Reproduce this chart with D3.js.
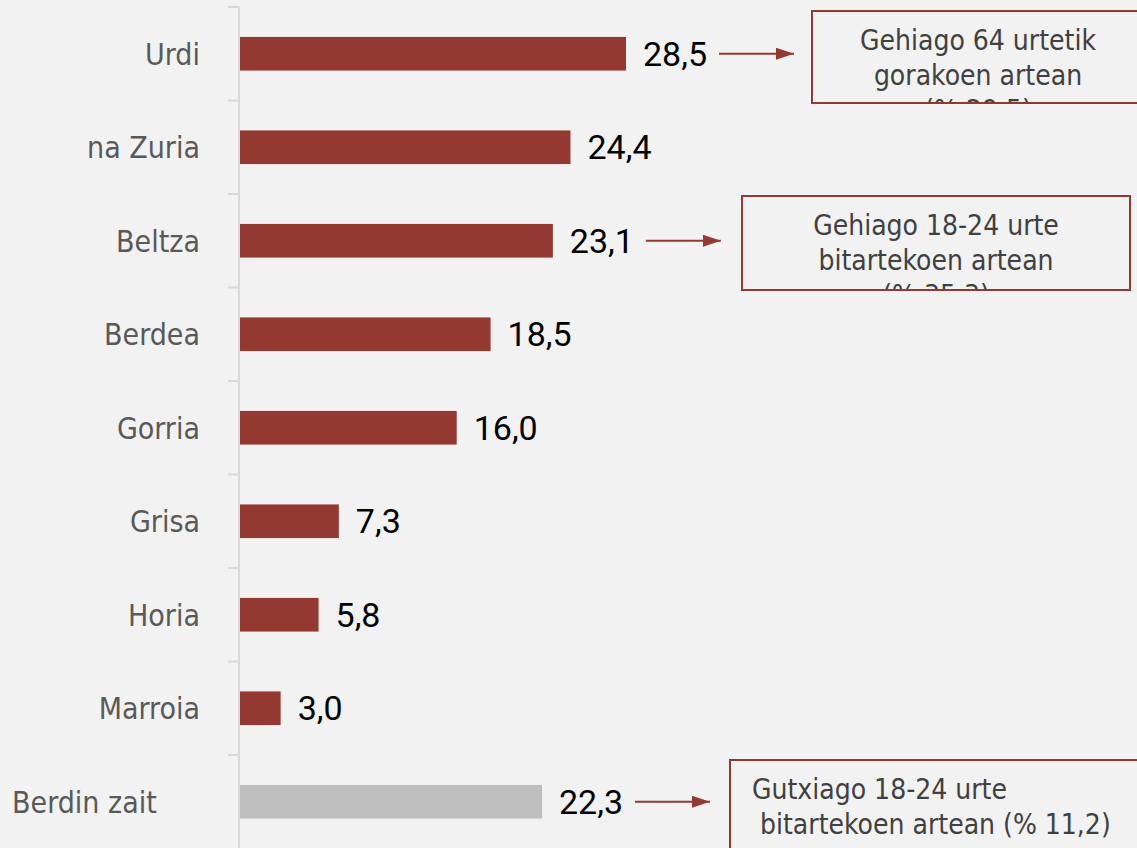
<!DOCTYPE html>
<html>
<head>
<meta charset="utf-8">
<script src="https://cdn.jsdelivr.net/npm/d3@7"></script>
<style>
  html, body { margin: 0; padding: 0; background: #f2f2f2; }
  svg { display: block; }
</style>
</head>
<body>
<svg width="1137" height="848"></svg>
<script>
const categories = ["Urdi", "na Zuria", "Beltza", "Berdea", "Gorria", "Grisa", "Horia", "Marroia", "Berdin zait"];
const values = [28.5, 24.4, 23.1, 18.5, 16.0, 7.3, 5.8, 3.0, 22.3];
const valueLabels = ["28,5", "24,4", "23,1", "18,5", "16,0", "7,3", "5,8", "3,0", "22,3"];
const noteCategories = ["Urdi", "Beltza", "Berdin zait"];
const noteLines = [
  ["Gehiago 64 urtetik", "gorakoen artean", "(% 29,5)"],
  ["Gehiago 18-24 urte", "bitartekoen artean", "(% 35,3)"],
  ["Gutxiago 18-24 urte", " bitartekoen artean (% 11,2)"]
];

const svg = d3.select("svg");
const red = "#943832";
const grey = "#bfbfbf";
const x0 = 240;

const x = d3.scaleLinear().domain([0, 28.5]).range([x0, 626]);
const y = d3.scaleBand().domain(categories).range([7, 848.5]).padding(0);
const barH = y.bandwidth() * 0.36;

// axis line + ticks between categories
const axis = svg.append("g").attr("stroke", "#d9d9d9").attr("stroke-width", 2);
axis.append("line").attr("x1", x0 - 1).attr("x2", x0 - 1).attr("y1", 7).attr("y2", 848);
axis.selectAll("line.tick").data(categories).join("line")
  .attr("class", "tick")
  .attr("x1", 228).attr("x2", x0 - 1)
  .attr("y1", d => y(d)).attr("y2", d => y(d));

const rows = categories.map((c, i) => ({ c, v: values[i], label: valueLabels[i] }));

svg.append("g").selectAll("rect").data(rows).join("rect")
  .attr("x", x0)
  .attr("y", d => y(d.c) + y.bandwidth() / 2 - barH / 2)
  .attr("width", d => x(d.v) - x0)
  .attr("height", barH)
  .attr("fill", d => d.c === "Berdin zait" ? grey : red);

svg.append("g").selectAll("text").data(rows).join("text")
  .attr("x", d => d.c === "Berdin zait" ? 12 : 200)
  .attr("y", d => y(d.c) + y.bandwidth() / 2)
  .attr("dy", "0.36em")
  .attr("text-anchor", d => d.c === "Berdin zait" ? "start" : "end")
  .attr("font-family", "DejaVu Sans Condensed, DejaVu Sans")
  .attr("font-size", 30)
  .attr("fill", "#595959")
  .text(d => d.c);

svg.append("g").selectAll("text").data(rows).join("text")
  .attr("x", d => x(d.v) + 17)
  .attr("y", d => y(d.c) + y.bandwidth() / 2)
  .attr("dy", "0.36em")
  .attr("font-family", "Roboto")
  .attr("font-size", 34)
  .attr("fill", "#000")
  .text(d => d.label);

// annotations
svg.append("defs").append("marker")
  .attr("id", "head")
  .attr("viewBox", "0 0 18 12")
  .attr("refX", 18).attr("refY", 6)
  .attr("markerWidth", 18).attr("markerHeight", 12)
  .attr("markerUnits", "userSpaceOnUse")
  .attr("orient", "auto")
  .append("path").attr("d", "M0,0L18,6L0,12Z").attr("fill", red);

const boxes = [
  { x: 812, y: 11, w: 340, h: 92, cx: 978, anchor: "middle" },
  { x: 742, y: 196, w: 388, h: 94, cx: 936, anchor: "middle" },
  { x: 730, y: 760, w: 420, h: 110, cx: 752, anchor: "start" }
];

noteCategories.forEach((c, i) => {
  const v = values[categories.indexOf(c)];
  const cy = y(c) + y.bandwidth() / 2;
  const b = boxes[i];
  svg.append("line")
    .attr("x1", x(v) + 93).attr("x2", x(v) + 168)
    .attr("y1", cy).attr("y2", cy)
    .attr("stroke", red).attr("stroke-width", 2)
    .attr("marker-end", "url(#head)");

  svg.append("clipPath").attr("id", "clip" + i)
    .append("rect").attr("x", b.x).attr("y", b.y).attr("width", b.w).attr("height", b.h);

  svg.append("g").attr("clip-path", "url(#clip" + i + ")")
    .selectAll("text").data(noteLines[i]).join("text")
    .attr("x", b.cx)
    .attr("y", (d, j) => b.y + 29 + j * 35)
    .attr("dy", "0.36em")
    .attr("text-anchor", b.anchor)
    .attr("font-family", "DejaVu Sans Condensed, DejaVu Sans")
    .attr("font-size", 28)
    .attr("fill", "#404040")
    .style("white-space", "pre")
    .text(d => d);

  svg.append("rect")
    .attr("x", b.x).attr("y", b.y).attr("width", b.w).attr("height", b.h)
    .attr("fill", "none").attr("stroke", red).attr("stroke-width", 2);
});
</script>
</body>
</html>
